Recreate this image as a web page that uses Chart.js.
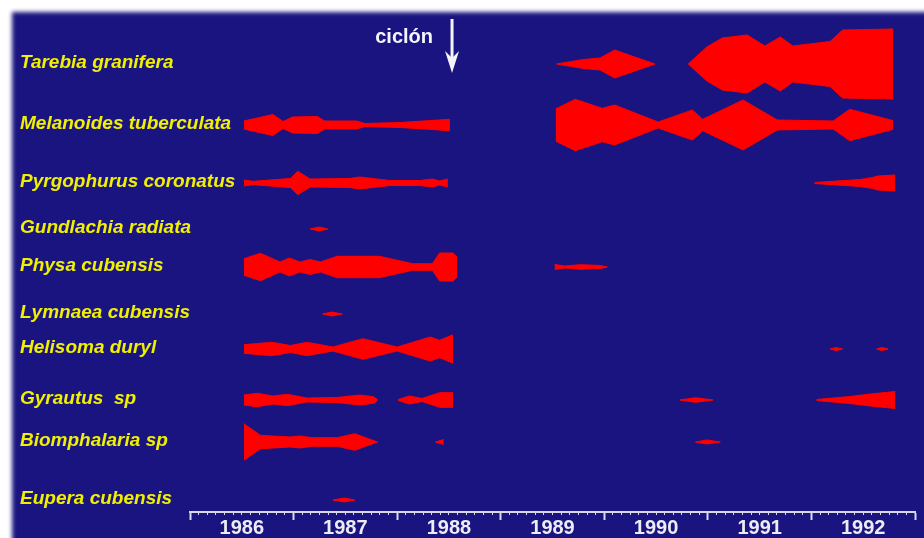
<!DOCTYPE html>
<html>
<head>
<meta charset="utf-8">
<title>Moluscos 1986-1992</title>
<script src="https://cdn.jsdelivr.net/npm/chart.js@4.4.1/dist/chart.umd.min.js"></script>
<style>
  html, body { margin: 0; padding: 0; background: #fff; }
  #wrap { width: 924px; height: 538px; }
</style>
</head>
<body>
<div id="wrap"><canvas id="kites" width="924" height="538"></canvas></div>
<script>
// species, top to bottom
const species = [
  "Tarebia granifera", "Melanoides tuberculata", "Pyrgophurus coronatus",
  "Gundlachia radiata", "Physa cubensis", "Lymnaea cubensis", "Helisoma duryl",
  "Gyrautus  sp", "Biomphalaria sp", "Eupera cubensis"
];
const yearLabels = ["1986", "1987", "1988", "1989", "1990", "1991", "1992"];
const cyclone = { label: "ciclón", date: 1988.53 };

// each species: sampled stretches of [year, half width of kite]
const tarebia = [
  [[1989.54, 0], [1989.80, 4.5], [1989.96, 6], [1990.10, 14], [1990.49, 0]],
  [[1990.81, 0], [1990.99, 17], [1991.14, 26], [1991.38, 29], [1991.55, 18], [1991.70, 27],
   [1991.82, 18], [1992.18, 22.5], [1992.30, 34], [1992.79, 35]]
];
const melanoides = [
  [[1986.52, 4], [1986.80, 10.5], [1986.90, 3.5], [1986.99, 8], [1987.23, 8.5], [1987.30, 4],
   [1987.61, 4], [1987.69, 1.5], [1988.03, 2.5], [1988.51, 5.7]],
  [[1989.53, 16], [1989.72, 25.7], [1989.98, 16.7], [1990.10, 20], [1990.52, 3], [1990.85, 15],
   [1990.95, 5.7], [1991.34, 25], [1991.67, 5], [1992.21, 4], [1992.37, 15.7], [1992.79, 4.3]]
];
const pyrgophurus = [
  [[1986.52, 3], [1986.61, 1.7], [1986.97, 4.5], [1987.04, 11.7], [1987.16, 4], [1987.54, 4.5],
   [1987.64, 6], [1987.93, 2.5], [1988.22, 2.5], [1988.34, 4], [1988.41, 2], [1988.49, 4]],
  [[1992.03, 0.5], [1992.47, 3.5], [1992.59, 5.5], [1992.64, 7], [1992.81, 8]]
];
const gundlachia = [
  [[1987.16, 0], [1987.25, 2], [1987.33, 0]]
];
const physa = [
  [[1986.52, 8.3], [1986.68, 13.7], [1986.87, 5], [1986.96, 9], [1987.06, 5], [1987.16, 7.5],
   [1987.26, 5], [1987.42, 10.7], [1987.83, 10.7], [1988.15, 3.3], [1988.34, 3.3], [1988.41, 14],
   [1988.54, 14], [1988.58, 10]],
  [[1989.52, 2.5], [1989.62, 1], [1989.77, 2.3], [1989.96, 1.5], [1990.03, 0]]
];
const lymnaea = [
  [[1987.28, 0], [1987.37, 2], [1987.47, 0]]
];
const helisoma = [
  [[1986.52, 4.3], [1986.79, 6.7], [1986.97, 3.5], [1987.13, 6.7], [1987.38, 2], [1987.67, 10.3],
   [1988.00, 2], [1988.32, 12], [1988.41, 8.7], [1988.54, 14.3]],
  [[1992.18, 0], [1992.24, 1.5], [1992.30, 0]],
  [[1992.63, 0], [1992.68, 1.5], [1992.74, 0]]
];
const gyrautus = [
  [[1986.52, 5], [1986.65, 6.7], [1986.80, 4], [1986.94, 5.7], [1987.13, 2], [1987.42, 2.5],
   [1987.64, 5], [1987.77, 3.3], [1987.81, 0.5]],
  [[1988.01, 0.5], [1988.12, 4], [1988.24, 1.5], [1988.41, 7.3], [1988.54, 7.3]],
  [[1990.73, 0], [1990.88, 2.3], [1991.05, 0]],
  [[1992.05, 0.5], [1992.37, 3.5], [1992.57, 6], [1992.81, 8.5]]
];
const biomphalaria = [
  [[1986.52, 18.3], [1986.68, 6.7], [1986.97, 5], [1987.06, 6], [1987.18, 4.3], [1987.42, 4.3],
   [1987.59, 8.3], [1987.81, 0]],
  [[1988.37, 0], [1988.45, 2.5]],
  [[1990.88, 0], [1990.99, 2], [1991.12, 0]]
];
const eupera = [
  [[1987.38, 0], [1987.49, 2], [1987.59, 0]]
];

const rows = [tarebia, melanoides, pyrgophurus, gundlachia, physa, lymnaea, helisoma, gyrautus, biomphalaria, eupera];

// layout: centre line of each row, in plot units (1 unit = 1 px)
const rowY = [64, 125, 183, 229, 267, 314, 349, 400, 442, 500];
const FONT = '"Liberation Sans", Arial, sans-serif';
const RED = "#ff0000";

const datasets = [];
rows.forEach((segments, r) => {
  segments.forEach((seg) => {
    datasets.push({ data: seg.map(([x, w]) => ({ x: x, y: rowY[r] - w })), fill: false });
    datasets.push({ data: seg.map(([x, w]) => ({ x: x, y: rowY[r] + w })), fill: "-1" });
  });
});

const backdrop = {
  id: "backdrop",
  beforeDraw(chart) {
    const ctx = chart.ctx;
    ctx.save();
    ctx.fillStyle = "#ffffff";
    ctx.fillRect(0, 0, chart.width, chart.height);
    ctx.filter = "blur(2px)";
    ctx.fillStyle = "#1a1480";
    ctx.fillRect(12, 12, chart.width + 20, chart.height + 20);
    ctx.restore();
  }
};

const labels = {
  id: "labels",
  afterDraw(chart) {
    const ctx = chart.ctx;
    const y = chart.scales.y;
    const x = chart.scales.x;
    ctx.save();
    ctx.font = "italic bold 19px " + FONT;
    ctx.fillStyle = "#f0f000";
    ctx.textBaseline = "middle";
    ctx.textAlign = "left";
    species.forEach((name, i) => {
      ctx.fillText(name, 20, y.getPixelForValue(rowY[i]) - 1);
    });

    // cyclone marker
    const cx = x.getPixelForValue(cyclone.date);
    ctx.fillStyle = "#f4f4fa";
    ctx.strokeStyle = "#f4f4fa";
    ctx.font = "bold 20px " + FONT;
    ctx.textAlign = "right";
    ctx.textBaseline = "alphabetic";
    ctx.fillText(cyclone.label, cx - 19, 43);
    ctx.lineWidth = 3;
    ctx.beginPath();
    ctx.moveTo(cx, 19);
    ctx.lineTo(cx, 62);
    ctx.stroke();
    ctx.beginPath();
    ctx.moveTo(cx, 73);
    ctx.lineTo(cx - 7, 51);
    ctx.lineTo(cx, 58);
    ctx.lineTo(cx + 7, 51);
    ctx.closePath();
    ctx.fill();
    ctx.restore();
  }
};

new Chart(document.getElementById("kites"), {
  type: "line",
  data: { datasets: datasets },
  options: {
    responsive: false,
    devicePixelRatio: 1,
    animation: false,
    layout: { padding: { left: 190, right: 9, top: 0, bottom: 0 } },
    elements: {
      point: { radius: 0, hoverRadius: 0 },
      line: { borderWidth: 1, borderColor: RED, backgroundColor: RED, tension: 0 }
    },
    plugins: { legend: { display: false }, tooltip: { enabled: false } },
    scales: {
      x: {
        type: "linear",
        min: 1986,
        max: 1993,
        afterBuildTicks: (s) => {
          s.ticks = Array.from({ length: 85 }, (_, i) => ({ value: 1986 + i / 12 }));
        },
        afterFit: (s) => { s.height = 26; },
        grid: {
          drawOnChartArea: false,
          drawTicks: true,
          tickLength: 8,
          tickColor: "#d8d8ea",
          tickWidth: (c) => (c.index % 12 === 0 ? 2 : 1),
          tickBorderDash: (c) => (c.index % 12 === 0 ? [] : [2, 40])
        },
        border: { display: true, color: "#d8d8ea", width: 2 },
        ticks: {
          autoSkip: false,
          maxRotation: 0,
          padding: -2,
          color: "#ececf4",
          font: { family: FONT, size: 20, weight: "bold", lineHeight: 1 },
          callback: (v, i) => (i % 12 === 6 ? yearLabels[Math.floor(i / 12)] : "")
        }
      },
      y: { type: "linear", display: false, min: 0, max: 512, reverse: true }
    }
  },
  plugins: [backdrop, labels]
});
</script>
</body>
</html>
